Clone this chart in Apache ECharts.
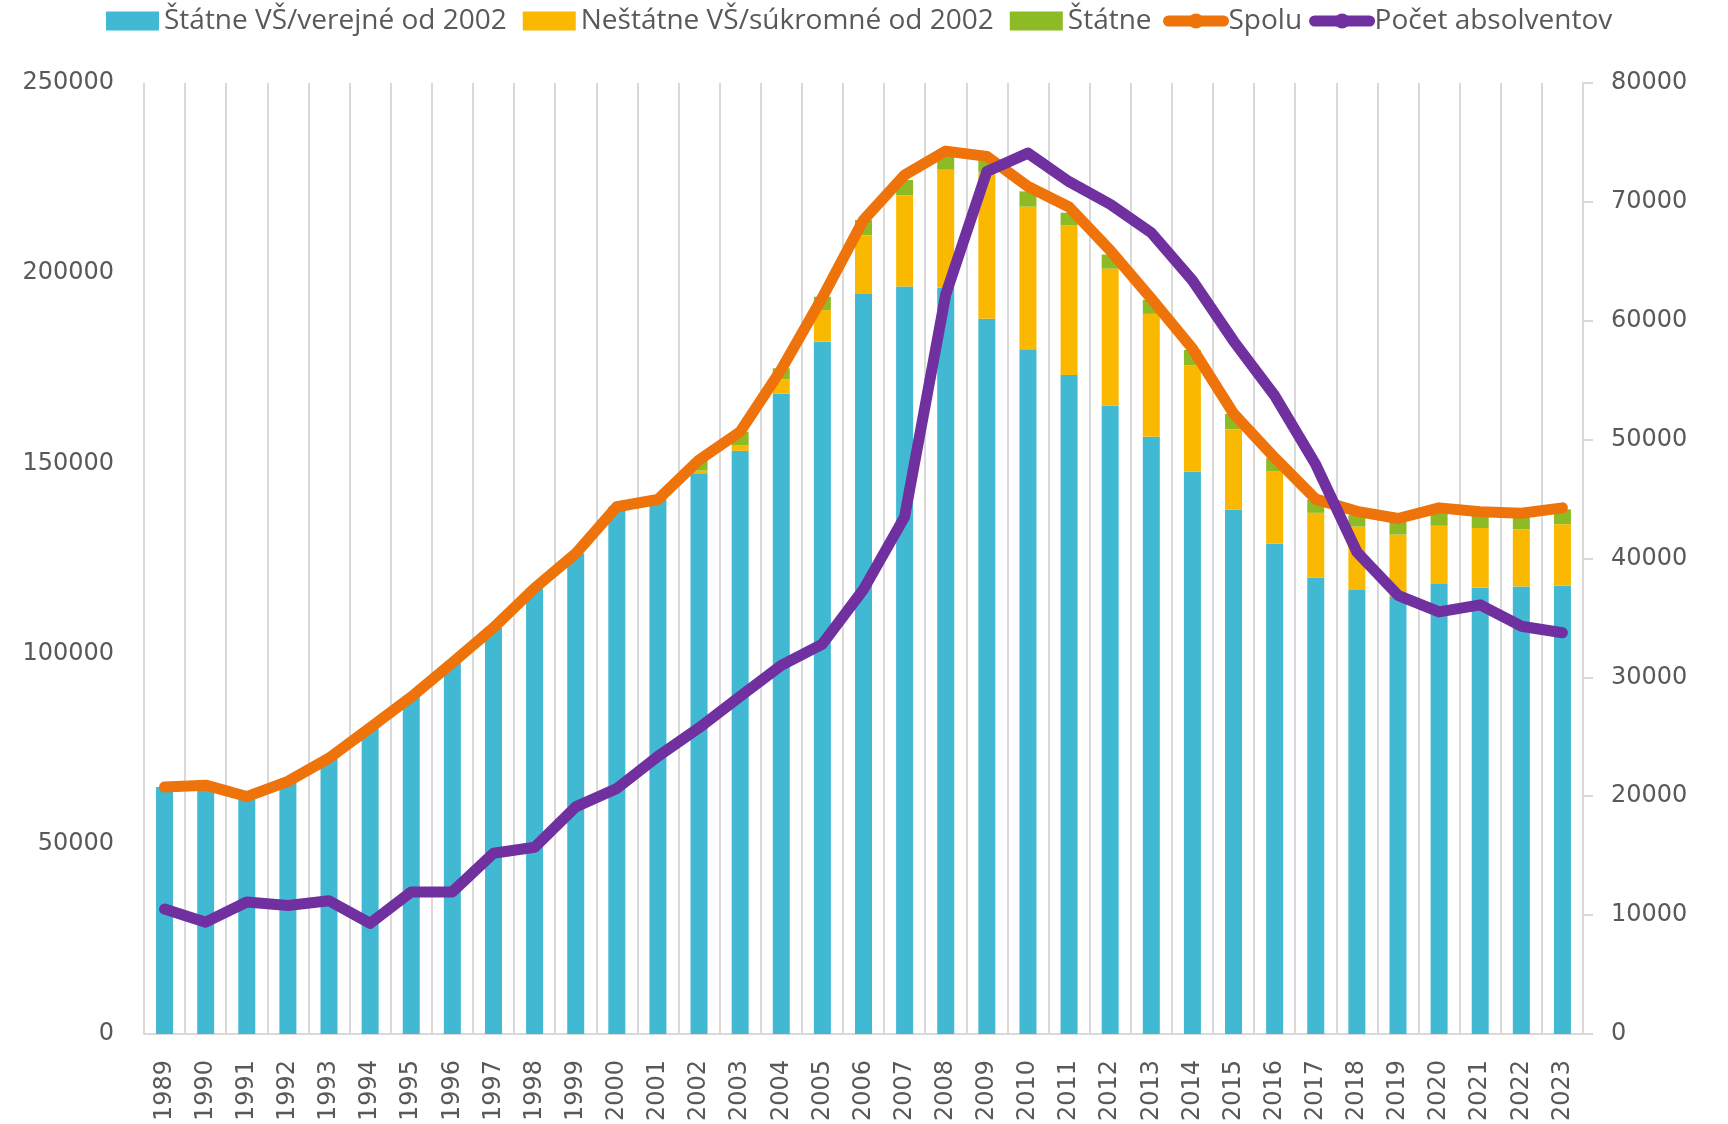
<!DOCTYPE html>
<html>
<head>
<meta charset="utf-8">
<script src="https://cdn.jsdelivr.net/npm/echarts@6/dist/echarts.min.js"></script>
<style>
  html, body { margin: 0; padding: 0; background: #fff; }
  #chart { width: 1728px; height: 1124px; }
</style>
</head>
<body>
<div id="chart"></div>
<script>
var years = ['1989', '1990', '1991', '1992', '1993', '1994', '1995', '1996', '1997', '1998',
  '1999', '2000', '2001', '2002', '2003', '2004', '2005', '2006', '2007', '2008', '2009',
  '2010', '2011', '2012', '2013', '2014', '2015', '2016', '2017', '2018', '2019', '2020',
  '2021', '2022', '2023'];

// stacked bars
var verejne = [64900, 65400, 62400, 66400, 72500, 80500, 88600, 97600, 106800, 117200,
  126300, 138600, 140500, 147400, 153300, 168400, 182000, 194500, 196500, 196200, 188000,
  180000, 173200, 165200, 157000, 147800, 137800, 128900, 120000, 116700, 114900, 118300,
  117300, 117600, 117800];
var sukromne = [0, 0, 0, 0, 0, 0, 0, 0, 0, 0,
  0, 0, 0, 700, 1500, 3700, 8300, 15500, 24000, 31000, 38500,
  37500, 39300, 36000, 32300, 28000, 21200, 19000, 17000, 16700, 16400, 15300,
  15700, 15100, 16200];
var statne = [0, 0, 0, 0, 0, 0, 0, 0, 0, 0,
  0, 0, 0, 2800, 3500, 2900, 3500, 4000, 4000, 3500, 3500,
  4000, 3400, 3700, 3700, 4000, 4000, 3500, 3500, 3000, 3700, 3700,
  3900, 3900, 3900];

// lines
var spolu = [64900, 65400, 62400, 66400, 72500, 80500, 88600, 97600, 106800, 117200,
  126300, 138600, 140500, 150900, 158300, 174700, 193600, 214000, 225800, 232100, 230700,
  222800, 217400, 206000, 193300, 180200, 163100, 151500, 140600, 137400, 135500, 138300,
  137300, 136900, 138300];
var absolventi = [10500, 9400, 11100, 10800, 11200, 9300, 11950, 11950, 15200, 15700,
  19100, 20650, 23350, 25750, 28400, 31000, 32800, 37400, 43500, 62200, 72550,
  74100, 71700, 69800, 67400, 63400, 58300, 53700, 47900, 40550, 36900, 35500,
  36100, 34300, 33750];

var leftTicks = { min: 0, max: 250000, interval: 50000 };
var rightTicks = { min: 0, max: 80000, interval: 10000 };

var cBlue = '#41B9D3';
var cYellow = '#FAB800';
var cGreen = '#8DBB25';
var cOrange = '#EE730B';
var cPurple = '#7030A0';
var gridColor = '#D9D9D9';
var textColor = '#595959';
var axisFont = 'DejaVu Sans';
var legendFont = 'Open Sans';

function plain(v) { return String(v); }

var chart = echarts.init(document.getElementById('chart'), null, { renderer: 'canvas' });
chart.setOption({
  animation: false,
  backgroundColor: '#fff',
  legend: [{
    left: 101, top: 2,
    itemWidth: 53, itemHeight: 19, itemGap: 16,
    textStyle: { color: textColor, fontFamily: legendFont, fontSize: 28 },
    data: [
      { name: 'Štátne VŠ/verejné od 2002', icon: 'rect' },
      { name: 'Neštátne VŠ/súkromné od 2002', icon: 'rect' },
      { name: 'Štátne', icon: 'rect' }
    ]
  }, {
    left: 1158, top: 2,
    itemWidth: 55, itemHeight: 19, itemGap: 7,
    textStyle: { color: textColor, fontFamily: legendFont, fontSize: 28 },
    lineStyle: { width: 11, cap: 'round' },
    data: ['Spolu', 'Počet absolventov']
  }],
  grid: { left: 144, right: 145, top: 83, bottom: 90 },
  xAxis: {
    type: 'category',
    data: years,
    axisLine: { lineStyle: { color: gridColor, width: 2 } },
    axisTick: { show: false },
    splitLine: { show: true, interval: 0, lineStyle: { color: gridColor, width: 2 } },
    axisLabel: {
      interval: 0, rotate: 90, margin: 26,
      color: textColor, fontFamily: axisFont, fontSize: 24
    }
  },
  yAxis: [{
    type: 'value',
    min: leftTicks.min, max: leftTicks.max, interval: leftTicks.interval,
    axisLine: { show: false },
    axisTick: { show: false },
    splitLine: { show: false },
    axisLabel: { margin: 30, color: textColor, fontFamily: axisFont, fontSize: 24, formatter: plain }
  }, {
    type: 'value',
    position: 'right',
    min: rightTicks.min, max: rightTicks.max, interval: rightTicks.interval,
    axisLine: { show: true, lineStyle: { color: gridColor, width: 2 } },
    axisTick: { show: true, length: 10, lineStyle: { color: gridColor, width: 2 } },
    splitLine: { show: false },
    axisLabel: { margin: 28, color: textColor, fontFamily: axisFont, fontSize: 24, formatter: plain }
  }],
  series: [{
    name: 'Štátne VŠ/verejné od 2002',
    type: 'bar', stack: 'vs', barWidth: 17,
    itemStyle: { color: cBlue },
    data: verejne
  }, {
    name: 'Neštátne VŠ/súkromné od 2002',
    type: 'bar', stack: 'vs', barWidth: 17,
    itemStyle: { color: cYellow },
    data: sukromne
  }, {
    name: 'Štátne',
    type: 'bar', stack: 'vs', barWidth: 17,
    itemStyle: { color: cGreen },
    data: statne
  }, {
    name: 'Spolu',
    type: 'line', yAxisIndex: 0,
    symbol: 'none',
    itemStyle: { color: cOrange },
    lineStyle: { color: cOrange, width: 11, cap: 'round', join: 'round' },
    data: spolu
  }, {
    name: 'Počet absolventov',
    type: 'line', yAxisIndex: 1,
    symbol: 'none',
    itemStyle: { color: cPurple },
    lineStyle: { color: cPurple, width: 11, cap: 'round', join: 'round' },
    data: absolventi
  }]
});
window.addEventListener('resize', function() { chart.resize(); });
</script>
</body>
</html>
